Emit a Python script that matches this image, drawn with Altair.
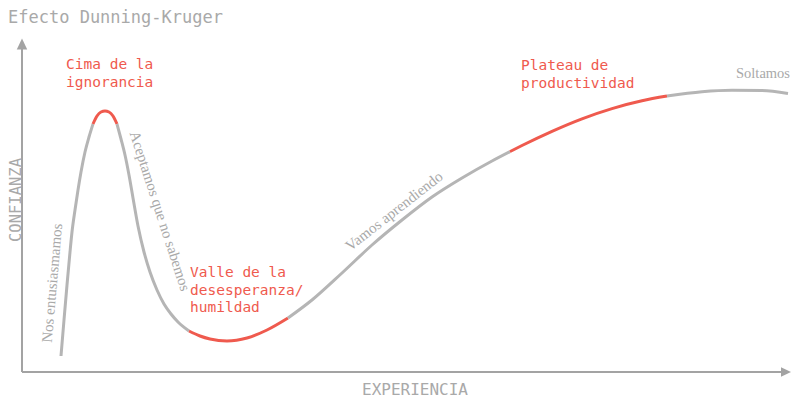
import altair as alt
import pandas as pd

# ---- data (experience vs confidence, arbitrary units) ----
curve_x = [39, 42, 45, 48, 50, 53, 56, 59, 63, 67,
           71, 75, 79, 83, 87, 91, 95,
           99, 103, 107, 111, 116, 122, 128, 135, 142, 149, 156,
           167, 178, 188, 205, 225, 245, 266,
           290, 320, 350, 380, 410, 440, 470, 488,
           500, 530, 560, 590, 620, 645,
           680, 710, 740, 766]
curve_y = [16, 52, 87, 120, 140, 162, 182, 200, 220, 235,
           248, 256, 260, 261, 260, 256, 248,
           233, 217, 197, 174, 146, 120, 100, 82, 68, 58, 50,
           41, 36, 33, 31, 34, 42, 54,
           72, 99, 127, 152, 175, 194, 211, 220.4,
           226.5, 240.7, 253.2, 263.4, 271.2, 275.9,
           280.3, 281.8, 281.5, 278.5]
# segment break indices (inclusive shared endpoints) and their tone
seg_bounds = [0, 10, 16, 28, 34, 42, 48, 52]
seg_tones = ["gray", "red", "gray", "red", "gray", "red", "gray"]

title_text = "Efecto Dunning-Kruger"
x_title = "EXPERIENCIA"
y_title = "CONFIANZA"

red_labels = ["Cima de la\nignorancia", "Valle de la\ndesesperanza/\nhumildad", "Plateau de\nproductividad"]
red_label_x = [44, 168, 499]
red_label_y = [303, 95, 302]

stage_labels = ["Nos entusiasmamos", "Aceptamos que no sabemos", "Vamos aprendiendo"]
stage_x = [30, 138, 372]
stage_y = [89, 161, 161]
stage_angle = [275, 72, 322]

end_label = "Soltamos"
end_x = 768
end_y = 294

# ---- styling ----
GRAY_LINE = "#b5b5b5"
RED = "#ef5a4e"
TEXT_GRAY = "#a9a9a9"
AXIS_GRAY = "#a3a3a3"
MONO = "DejaVu Sans Mono"
SERIF = "Liberation Serif"

X_DOMAIN = [-14, 770]
Y_DOMAIN = [-26, 364]


def X(field="x"):
    return alt.X(f"{field}:Q", scale=alt.Scale(domain=X_DOMAIN, nice=False, zero=False), axis=None)


def Y(field="y"):
    return alt.Y(f"{field}:Q", scale=alt.Scale(domain=Y_DOMAIN, nice=False, zero=False), axis=None)


rows = []
for s in range(len(seg_tones)):
    for i in range(seg_bounds[s], seg_bounds[s + 1] + 1):
        rows.append({"x": curve_x[i], "y": curve_y[i], "seg": s, "tone": seg_tones[s], "i": i})
curve_df = pd.DataFrame(rows)

curve = alt.Chart(curve_df).mark_line(interpolate="monotone", strokeWidth=3, strokeCap="butt").encode(
    x=X(), y=Y(), detail="seg:N", order="i:Q",
    color=alt.Color("tone:N", scale=alt.Scale(domain=["gray", "red"], range=[GRAY_LINE, RED]), legend=None),
)

# axes with arrows
axis_df = pd.DataFrame({"x": [0, 0], "y": [0, 0], "x2": [0, 763], "y2": [328, 0]})
axis_rules = alt.Chart(axis_df).mark_rule(color=AXIS_GRAY, strokeWidth=2).encode(
    x=X(), y=Y(), x2="x2:Q", y2="y2:Q")

up_arrow = alt.Chart(pd.DataFrame({"x": [0], "y": [328]})).mark_point(
    shape="M0,-1L0.95,1L-0.95,1Z", filled=True, size=121, color=AXIS_GRAY, opacity=1).encode(x=X(), y=Y())
right_arrow = alt.Chart(pd.DataFrame({"x": [764], "y": [0]})).mark_point(
    shape="M1,0L-1,0.95L-1,-0.95Z", filled=True, size=100, color=AXIS_GRAY, opacity=1).encode(x=X(), y=Y())

title = alt.Chart(pd.DataFrame({"x": [-14], "y": [349], "t": [title_text]})).mark_text(
    font=MONO, fontSize=17, color=TEXT_GRAY, align="left", baseline="alphabetic").encode(
    x=X(), y=Y(), text="t:N")

xt = alt.Chart(pd.DataFrame({"x": [393], "y": [-18], "t": [x_title]})).mark_text(
    font=MONO, fontSize=16, color=TEXT_GRAY, align="center", baseline="middle").encode(
    x=X(), y=Y(), text="t:N")

yt = alt.Chart(pd.DataFrame({"x": [-6], "y": [172], "t": [y_title]})).mark_text(
    font=MONO, fontSize=15.5, color=TEXT_GRAY, align="center", baseline="middle", angle=270).encode(
    x=X(), y=Y(), text="t:N")

red_layers = []
for t, lx, ly in zip(red_labels, red_label_x, red_label_y):
    red_layers.append(alt.Chart(pd.DataFrame({"x": [lx], "y": [ly], "t": [t]})).mark_text(
        font=MONO, fontSize=14.5, color=RED, align="left", baseline="alphabetic",
        lineBreak="\n", lineHeight=17.5).encode(x=X(), y=Y(), text="t:N"))

stage_layers = []
for t, sx, sy, a in zip(stage_labels, stage_x, stage_y, stage_angle):
    stage_layers.append(alt.Chart(pd.DataFrame({"x": [sx], "y": [sy], "t": [t]})).mark_text(
        font=SERIF, fontSize=15, color=TEXT_GRAY, align="center", baseline="middle", angle=a).encode(
        x=X(), y=Y(), text="t:N"))

end_layer = alt.Chart(pd.DataFrame({"x": [end_x], "y": [end_y], "t": [end_label]})).mark_text(
    font=SERIF, fontSize=14.5, color=TEXT_GRAY, align="right", baseline="alphabetic").encode(
    x=X(), y=Y(), text="t:N")

chart = alt.layer(
    axis_rules, up_arrow, right_arrow, curve, title, xt, yt, *red_layers, *stage_layers, end_layer
).properties(
    width=784, height=390, autosize=alt.AutoSizeParams(type="none"), padding=0,
    background="white"
).configure_view(stroke=None)

chart.save("out.html", embed_options={"renderer": "svg", "actions": False})
